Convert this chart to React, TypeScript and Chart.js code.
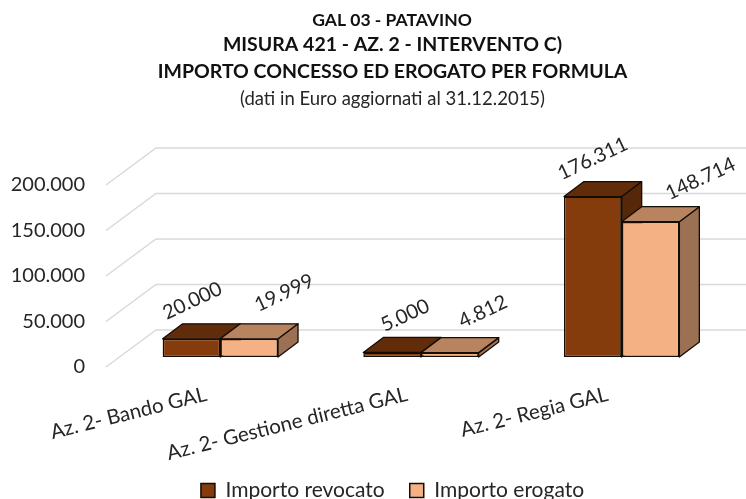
import React, { useEffect, useRef } from "react";
import { Chart, registerables } from "chart.js";

Chart.register(...registerables);

const categories = ["Az. 2- Bando GAL", "Az. 2- Gestione diretta GAL", "Az. 2- Regia GAL"];
const revocato = [20000, 5000, 176311];
const erogato = [19999, 4812, 148714];
const seriesNames = ["Importo revocato", "Importo erogato"];
const headLine = "GAL 03 - PATAVINO";
const titleLines = ["MISURA 421 - AZ. 2 - INTERVENTO C)", "IMPORTO CONCESSO ED EROGATO PER FORMULA"];
const subtitleLine = "(dati in Euro aggiornati al 31.12.2015)";

const FONT = "Lato, 'Open Sans', sans-serif";
const TEXT = "#262626";
const EDGE = "#140d06";
const FRONT = ["#843C0C", "#F4B183"];
const TOP = ["#612C09", "#B8835F"];
const SIDE = ["#562708", "#9C7052"];

// projection of the 3D box
const BAR_SHIFT = { x: 14, y: -10 };
const BAR_DEPTH = { x: 20, y: -15 };
const WALL_DEPTH = { x: 50, y: -37 };
const LABEL_OFFSET = [
  [{ x: 1, y: -38 }, { x: 13, y: -37 }, { x: 0, y: -38 }],
  [{ x: 35, y: -46 }, { x: 33, y: -41 }, { x: 50, y: -43 }],
];

const fmt = (v: number) => String(v).replace(/\B(?=(\d{3})+(?!\d))/g, ".");

const poly = (ctx: CanvasRenderingContext2D, pts: number[][], fill: string) => {
  ctx.beginPath();
  pts.forEach(([x, y], i) => (i ? ctx.lineTo(x, y) : ctx.moveTo(x, y)));
  ctx.closePath();
  ctx.fillStyle = fill;
  ctx.fill();
  ctx.strokeStyle = EDGE;
  ctx.lineWidth = 1.3;
  ctx.lineJoin = "round";
  ctx.stroke();
};

const box3d = {
  id: "box3d",
  beforeDatasetsDraw(chart: any) {
    const { ctx, chartArea, scales } = chart;
    ctx.save();
    ctx.strokeStyle = "#d9d9d9";
    ctx.lineWidth = 1.5;
    scales.y.ticks.forEach((t: any) => {
      const y = scales.y.getPixelForValue(t.value);
      ctx.beginPath();
      ctx.moveTo(chartArea.left, y);
      ctx.lineTo(chartArea.left + WALL_DEPTH.x, y + WALL_DEPTH.y);
      ctx.lineTo(chartArea.right + WALL_DEPTH.x, y + WALL_DEPTH.y);
      ctx.stroke();
    });
    ctx.restore();
  },
  // the boxes overlap, so they are painted by hand, first series first
  beforeDatasetDraw() {
    return false;
  },
  afterDatasetsDraw(chart: any) {
    const { ctx } = chart;
    ctx.save();
    ctx.translate(BAR_SHIFT.x, BAR_SHIFT.y);
    chart.data.datasets.forEach((_: any, i: number) => {
      chart.getDatasetMeta(i).data.forEach((el: any) => {
        const w = el.width / 2;
        const l = el.x - w;
        const r = el.x + w;
        const d = BAR_DEPTH;
        poly(ctx, [[r, el.y], [r + d.x, el.y + d.y], [r + d.x, el.base + d.y], [r, el.base]], SIDE[i]);
        poly(ctx, [[l, el.y], [l + d.x, el.y + d.y], [r + d.x, el.y + d.y], [r, el.y]], TOP[i]);
        el.draw(ctx);
      });
    });
    ctx.restore();
    chart.data.datasets.forEach((ds: any, i: number) => {
      chart.getDatasetMeta(i).data.forEach((el: any, j: number) => {
        const o = LABEL_OFFSET[i][j];
        ctx.save();
        ctx.translate(el.x + BAR_SHIFT.x + o.x, el.y + BAR_SHIFT.y + o.y);
        ctx.rotate((-25 * Math.PI) / 180);
        ctx.font = `20px ${FONT}`;
        ctx.fillStyle = TEXT;
        ctx.textAlign = "center";
        ctx.textBaseline = "middle";
        ctx.fillText(fmt(ds.data[j]), 0, 0);
        ctx.restore();
      });
    });
    ctx.save();
    ctx.font = `bold 17.5px ${FONT}`;
    ctx.fillStyle = "#111";
    ctx.textAlign = "center";
    ctx.textBaseline = "middle";
    ctx.fillText(headLine, 392, 20);
    ctx.restore();
  },
};

// tick labels may run past the scale's own box
const noLabelClip = (s: any) => {
  s._computeLabelArea = () => undefined;
};

export default function App() {
  const ref = useRef<HTMLCanvasElement>(null);
  useEffect(() => {
    const chart = new Chart(ref.current as HTMLCanvasElement, {
      type: "bar",
      data: {
        labels: categories,
        datasets: [
          { label: seriesNames[0], data: revocato, backgroundColor: FRONT[0], borderColor: EDGE, borderWidth: 1.5, borderSkipped: false },
          { label: seriesNames[1], data: erogato, backgroundColor: FRONT[1], borderColor: EDGE, borderWidth: 1.5, borderSkipped: false },
        ],
      } as any,
      options: {
        responsive: false,
        animation: false,
        layout: { padding: { left: 39, right: 0, top: 0, bottom: -12 } },
        datasets: { bar: { categoryPercentage: 0.575, barPercentage: 1 } },
        plugins: {
          tooltip: { enabled: false },
          title: {
            display: true,
            text: titleLines,
            color: "#111",
            font: { family: FONT, size: 19.5, weight: "bold", lineHeight: 1.38 },
            padding: { top: 31, bottom: 0 },
          },
          subtitle: {
            display: true,
            text: subtitleLine,
            color: TEXT,
            font: { family: FONT, size: 18.5 },
            padding: { top: 3, bottom: 75 },
          },
          legend: {
            position: "bottom",
            labels: {
              color: TEXT,
              font: { family: FONT, size: 21 },
              boxWidth: 14,
              boxHeight: 14,
              padding: 25,
            },
          },
        },
        scales: {
          x: {
            grid: { display: false },
            border: { display: false },
            ticks: {
              color: TEXT,
              font: { family: FONT, size: 20.5 },
              minRotation: 14,
              maxRotation: 14,
              padding: 7,
              autoSkip: false,
            },
            afterFit: (s: any) => { s.height = 88; noLabelClip(s); },
          },
          y: {
            min: 0,
            max: 200000,
            grid: { display: false },
            border: { display: false },
            afterFit: (s: any) => { s.width = 67; noLabelClip(s); },
            ticks: {
              stepSize: 50000,
              color: TEXT,
              font: { family: FONT, size: 20 },
              padding: 13,
              callback: (v: any) => fmt(Number(v)),
            },
          },
          spacer: {
            type: "linear",
            position: "right",
            grid: { display: false },
            border: { display: false },
            ticks: { display: false },
            afterFit: (s: any) => { s.width = 38; },
          },
        },
      } as any,
      plugins: [box3d],
    });
    return () => chart.destroy();
  }, []);
  return (
    <div style={{ position: "fixed", left: 0, top: 0, width: 746, height: 499, background: "#fff" }}>
      <canvas ref={ref} width={746} height={499} style={{ display: "block" }} />
    </div>
  );
}
